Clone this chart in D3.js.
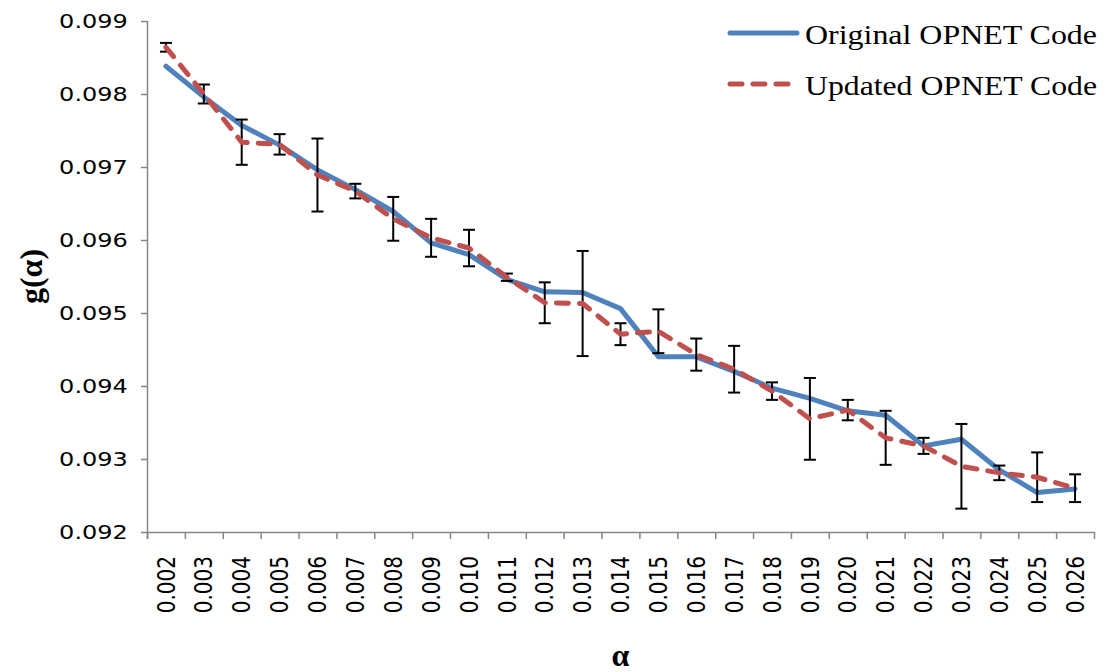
<!DOCTYPE html>
<html>
<head>
<meta charset="utf-8">
<script src="https://cdn.jsdelivr.net/npm/d3@7"></script>
<style>
  body { margin: 0; background: #fff; }
</style>
</head>
<body>
<div class="chart"></div>
<script>
// categories (alpha)
const alphaLabels = [
  "0.002", "0.003", "0.004", "0.005", "0.006", "0.007", "0.008", "0.009",
  "0.010", "0.011", "0.012", "0.013", "0.014", "0.015", "0.016", "0.017",
  "0.018", "0.019", "0.020", "0.021", "0.022", "0.023", "0.024", "0.025", "0.026",
]

// g(alpha), original OPNET code
const original = [
  0.09838, 0.09796, 0.09757, 0.09730, 0.09696, 0.09669, 0.09639, 0.09596,
  0.09580, 0.09546, 0.09529, 0.09528, 0.09506, 0.09440, 0.09440, 0.09420,
  0.09397, 0.09383, 0.09366, 0.09360, 0.09318, 0.09327, 0.09285, 0.09254, 0.09259,
]

// g(alpha), updated OPNET code
const updated = [
  0.09864, 0.09800, 0.09734, 0.09731, 0.09689, 0.09667, 0.09629, 0.09603,
  0.09589, 0.09549, 0.09514, 0.09513, 0.09471, 0.09475, 0.09443, 0.09423,
  0.09393, 0.09355, 0.09367, 0.09329, 0.09318, 0.09290, 0.09281, 0.09275, 0.09260,
]

// error (+/-) on the updated series
const updatedErr = [
  0.00006, 0.00013, 0.00031, 0.00014, 0.00050, 0.00010, 0.00030, 0.00026,
  0.00025, 0.00005, 0.00028, 0.00072, 0.00015, 0.00030, 0.00022, 0.00032,
  0.00012, 0.00056, 0.00014, 0.00037, 0.00011, 0.00058, 0.00010, 0.00034, 0.00019,
]

const yTicks = [0.092, 0.093, 0.094, 0.095, 0.096, 0.097, 0.098, 0.099]
const seriesNames = ["Original OPNET Code", "Updated OPNET Code"]

const config = {
  width: 1106,
  height: 672,
  left: 147,
  right: 1094,
  top: 21,
  bottom: 532,
  blue: "#4F81BD",
  red: "#C0504D",
  axisColor: "#868686",
  dash: "12,11",
  // the source picture is stretched sideways a little
  stretch: 1.2,
}

const svg = d3.select(".chart").append("svg")
  .attr("width", config.width)
  .attr("height", config.height)

// 比例尺
const x = d3.scaleBand()
  .domain(alphaLabels)
  .range([config.left, config.right])
  .padding(0)

const xEdge = d3.scaleLinear()
  .domain([0, alphaLabels.length])
  .range([config.left, config.right])

const y = d3.scaleLinear()
  .domain([0.092, 0.099])
  .range([config.bottom, config.top])

const cx = (d) => x(d) + x.bandwidth() / 2

// y 轴
const yAxis = svg.append("g")
  .attr("transform", `translate(${config.left},0)`)
  .call(d3.axisLeft(y).tickValues(yTicks).tickFormat(d3.format(".3f")).tickSize(6).tickSizeOuter(0))

yAxis.select(".domain").attr("stroke", config.axisColor).attr("stroke-width", 1.5)
  .attr("d", `M0.5,${config.top}V${config.bottom + 7}`)
yAxis.selectAll(".tick line").attr("stroke", config.axisColor).attr("stroke-width", 1.5)
yAxis.selectAll(".tick text")
  .attr("font-family", "DejaVu Sans")
  .attr("font-size", 20)
  .attr("fill", "#000")
  .attr("x", -16)
  .attr("transform", `scale(${config.stretch},1)`)

// x 轴: boundary ticks
const xTickAxis = svg.append("g")
  .attr("transform", `translate(0,${config.bottom})`)
  .call(d3.axisBottom(xEdge).tickValues(d3.range(alphaLabels.length + 1)).tickFormat("").tickSize(7).tickSizeOuter(0))
xTickAxis.select(".domain").attr("stroke", config.axisColor).attr("stroke-width", 1.5)
xTickAxis.selectAll(".tick line").attr("stroke", config.axisColor).attr("stroke-width", 1.5)

// x 轴: labels
const xLabelAxis = svg.append("g")
  .attr("transform", `translate(0,${config.bottom})`)
  .call(d3.axisBottom(x).tickSize(0))
xLabelAxis.select(".domain").remove()
xLabelAxis.selectAll(".tick text")
  .attr("font-family", "DejaVu Sans")
  .attr("font-size", 20)
  .attr("fill", "#000")
  .attr("text-anchor", "end")
  .attr("x", -24)
  .attr("y", 0)
  .attr("dy", "0.36em")
  .attr("transform", `scale(${config.stretch},1) rotate(-90)`)

// 轴标题
svg.append("text")
  .attr("transform", `translate(42,${(config.top + config.bottom) / 2}) rotate(-90)`)
  .attr("text-anchor", "middle")
  .attr("font-family", "Liberation Serif")
  .attr("font-weight", "bold")
  .attr("font-size", 32)
  .text("g(α)")

svg.append("text")
  .attr("x", (config.left + config.right) / 2)
  .attr("y", 666)
  .attr("text-anchor", "middle")
  .attr("font-family", "Liberation Serif")
  .attr("font-weight", "bold")
  .attr("font-size", 32)
  .text("α")

// 折线
const line = (values) => d3.line()
  .x((d, i) => cx(alphaLabels[i]))
  .y((d) => y(d))(values)

svg.append("path")
  .attr("d", line(original))
  .attr("fill", "none")
  .attr("stroke", config.blue)
  .attr("stroke-width", 5)
  .attr("stroke-linejoin", "round")
  .attr("stroke-linecap", "round")

// 误差线
const bars = svg.append("g").attr("stroke", "#000").attr("stroke-width", 2)
updated.forEach((v, i) => {
  const px = cx(alphaLabels[i])
  const y0 = y(v - updatedErr[i])
  const y1 = y(v + updatedErr[i])
  bars.append("line").attr("x1", px).attr("x2", px).attr("y1", y0).attr("y2", y1)
  bars.append("line").attr("x1", px - 6).attr("x2", px + 6).attr("y1", y0).attr("y2", y0)
  bars.append("line").attr("x1", px - 6).attr("x2", px + 6).attr("y1", y1).attr("y2", y1)
})

svg.append("path")
  .attr("d", line(updated))
  .attr("fill", "none")
  .attr("stroke", config.red)
  .attr("stroke-width", 5)
  .attr("stroke-dasharray", config.dash)
  .attr("stroke-linejoin", "round")
  .attr("stroke-linecap", "round")

// 图例
const legend = svg.append("g").attr("transform", "translate(728,0)")
const legendRows = [
  { name: seriesNames[0], color: config.blue, dash: null, y: 33 },
  { name: seriesNames[1], color: config.red, dash: config.dash, y: 84 },
]
legendRows.forEach((r) => {
  legend.append("line")
    .attr("x1", 2).attr("x2", 69).attr("y1", r.y).attr("y2", r.y)
    .attr("stroke", r.color)
    .attr("stroke-width", 5)
    .attr("stroke-linecap", "round")
    .attr("stroke-dasharray", r.dash)
  legend.append("text")
    .attr("x", 77)
    .attr("y", r.y + 11)
    .attr("font-family", "Liberation Serif")
    .attr("font-size", 28)
    .attr("fill", "#000")
    .attr("textLength", 292)
    .attr("lengthAdjust", "spacingAndGlyphs")
    .text(r.name)
})
</script>
</body>
</html>
